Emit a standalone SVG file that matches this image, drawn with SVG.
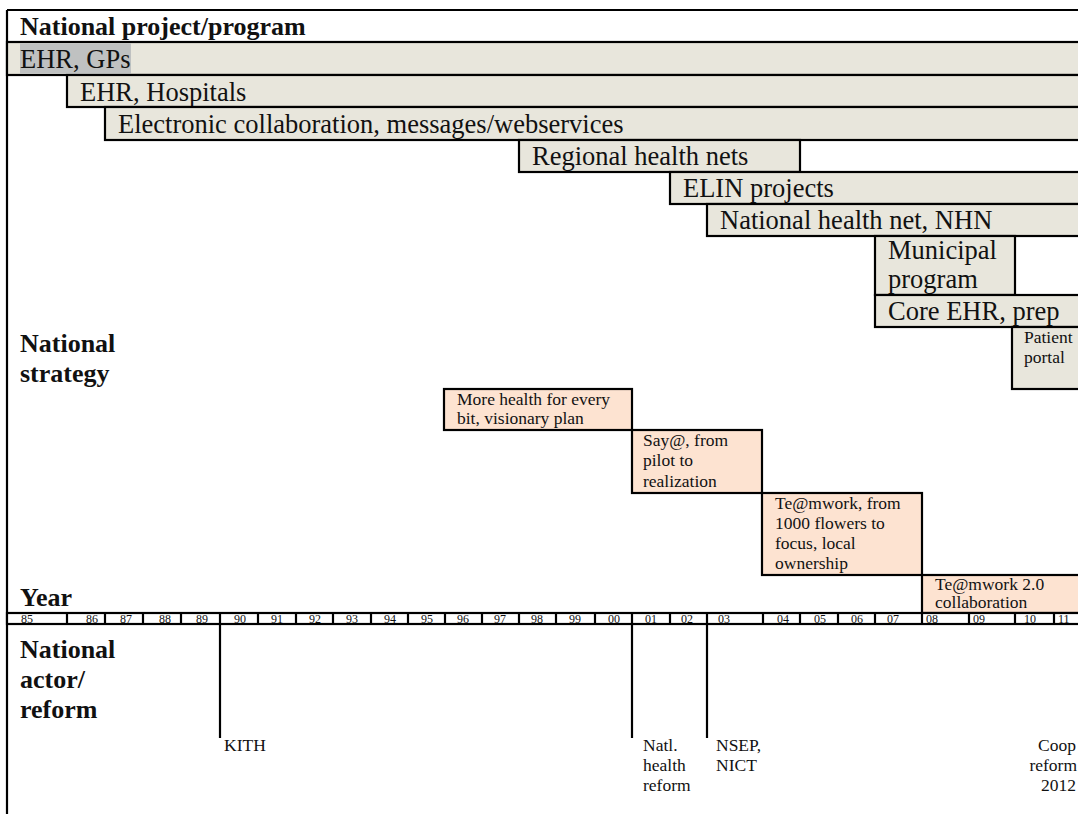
<svg xmlns="http://www.w3.org/2000/svg" width="1078" height="814" viewBox="0 0 1078 814">
  <style>
    .proj { fill: #e8e6dc; stroke: #000; stroke-width: 2.2; }
    .strat { fill: #fde3d1; stroke: #000; stroke-width: 2.2; }
    .cell { fill: #fff; stroke: #000; stroke-width: 2.2; }
    .rule { stroke: #000; stroke-width: 2.2; fill: none; }
    .head, .big, .small, .yr { font-family: 'Liberation Serif', 'Times New Roman', serif; fill: #111; }
    .head { font-size: 26px; font-weight: bold; }
    .big { font-size: 26.5px; }
    .small { font-size: 17.5px; }
    .yr { font-size: 12px; }
  </style>

  <rect x="0" y="0" width="1078" height="814" fill="#fff"/>

  <!-- outer frame -->
  <g id="frame">
    <line class="rule" x1="7" y1="10" x2="1078" y2="10"/>
    <line class="rule" x1="7" y1="10" x2="7" y2="814"/>
  </g>

  <!-- section headings -->
  <g id="headings">
    <text class="head" x="20" y="35">National project/program</text>
    <text class="head" x="20" y="352">National</text>
    <text class="head" x="20" y="382">strategy</text>
    <text class="head" x="20" y="606">Year</text>
    <text class="head" x="20" y="658">National</text>
    <text class="head" x="20" y="688">actor/</text>
    <text class="head" x="20" y="718">reform</text>
  </g>

  <!-- national projects / programs -->
  <g id="ehr-gps">
    <rect class="proj" x="7" y="42" width="1090" height="33"/>
    <rect x="20" y="43.2" width="111" height="30.6" fill="#bfc1c1"/>
    <text class="big" x="20" y="68">EHR, GPs</text>
  </g>
  <g id="ehr-hospitals">
    <rect class="proj" x="67" y="75" width="1030" height="32"/>
    <text class="big" x="80" y="101">EHR, Hospitals</text>
  </g>
  <g id="electronic-collaboration">
    <rect class="proj" x="105" y="107" width="990" height="33"/>
    <text class="big" x="118" y="133">Electronic collaboration, messages/webservices</text>
  </g>
  <g id="regional-health-nets">
    <rect class="proj" x="519" y="140" width="281" height="32"/>
    <text class="big" x="532" y="165">Regional health nets</text>
  </g>
  <g id="elin-projects">
    <rect class="proj" x="670" y="172" width="420" height="32"/>
    <text class="big" x="683" y="197">ELIN projects</text>
  </g>
  <g id="national-health-net">
    <rect class="proj" x="707" y="204" width="390" height="32"/>
    <text class="big" x="720" y="229">National health net, NHN</text>
  </g>
  <g id="municipal-program">
    <rect class="proj" x="875" y="236" width="140" height="59"/>
    <text class="big" x="888" y="259">Municipal</text>
    <text class="big" x="888" y="288">program</text>
  </g>
  <g id="core-ehr">
    <rect class="proj" x="875" y="295" width="220" height="32"/>
    <text class="big" x="888" y="320">Core EHR, prep</text>
  </g>
  <g id="patient-portal">
    <rect class="proj" x="1012" y="327" width="90" height="62"/>
    <text class="small" x="1024" y="343">Patient</text>
    <text class="small" x="1024" y="363">portal</text>
  </g>

  <!-- national strategies -->
  <g id="more-health">
    <rect class="strat" x="444" y="389" width="188" height="41"/>
    <text class="small" x="457" y="405">More health for every</text>
    <text class="small" x="457" y="424">bit, visionary plan</text>
  </g>
  <g id="say">
    <rect class="strat" x="632" y="430" width="130" height="63"/>
    <text class="small" x="643" y="446">Say@, from</text>
    <text class="small" x="643" y="466">pilot to</text>
    <text class="small" x="643" y="487">realization</text>
  </g>
  <g id="teamwork">
    <rect class="strat" x="762" y="493" width="160" height="82"/>
    <text class="small" x="775" y="509">Te@mwork, from</text>
    <text class="small" x="775" y="529">1000 flowers to</text>
    <text class="small" x="775" y="549">focus, local</text>
    <text class="small" x="775" y="569">ownership</text>
  </g>
  <g id="teamwork-2">
    <rect class="strat" x="922" y="575" width="170" height="38"/>
    <text class="small" x="935" y="590">Te@mwork 2.0</text>
    <text class="small" x="935" y="608">collaboration</text>
  </g>

  <!-- year scale -->
  <g id="year-scale">
    <rect class="cell" x="7" y="613" width="1090" height="11"/>
    <path class="rule" d="M67 613V624M105 613V624M143 613V624M181 613V624M220 613V624M258 613V624M296 613V624M333 613V624M371 613V624M408 613V624M445 613V624M482 613V624M519 613V624M556 613V624M595 613V624M632 613V624M670 613V624M707 613V624M763 613V624M800 613V624M838 613V624M875 613V624M922 613V624M969 613V624M1015 613V624M1054 613V624"/>
    <text class="yr" x="21" y="623">85</text>
    <text class="yr" x="86" y="623">86</text>
    <text class="yr" x="120" y="623">87</text>
    <text class="yr" x="159" y="623">88</text>
    <text class="yr" x="196" y="623">89</text>
    <text class="yr" x="234" y="623">90</text>
    <text class="yr" x="271" y="623">91</text>
    <text class="yr" x="309" y="623">92</text>
    <text class="yr" x="346" y="623">93</text>
    <text class="yr" x="384" y="623">94</text>
    <text class="yr" x="421" y="623">95</text>
    <text class="yr" x="457" y="623">96</text>
    <text class="yr" x="494" y="623">97</text>
    <text class="yr" x="531" y="623">98</text>
    <text class="yr" x="569" y="623">99</text>
    <text class="yr" x="608" y="623">00</text>
    <text class="yr" x="645" y="623">01</text>
    <text class="yr" x="681" y="623">02</text>
    <text class="yr" x="718" y="623">03</text>
    <text class="yr" x="777" y="623">04</text>
    <text class="yr" x="814" y="623">05</text>
    <text class="yr" x="851" y="623">06</text>
    <text class="yr" x="887" y="623">07</text>
    <text class="yr" x="926" y="623">08</text>
    <text class="yr" x="973" y="623">09</text>
    <text class="yr" x="1024" y="623">10</text>
    <text class="yr" x="1058" y="623">11</text>
  </g>

  <!-- markers from the year scale down to actors/reforms -->
  <g id="connectors">
    <line class="rule" x1="220" y1="624" x2="220" y2="738"/>
    <line class="rule" x1="632" y1="624" x2="632" y2="738"/>
    <line class="rule" x1="707" y1="624" x2="707" y2="738"/>
  </g>

  <!-- national actors / reforms -->
  <g id="kith">
    <text class="small" x="224" y="751">KITH</text>
  </g>
  <g id="health-reform">
    <text class="small" x="643" y="751">Natl.</text>
    <text class="small" x="643" y="771">health</text>
    <text class="small" x="643" y="791">reform</text>
  </g>
  <g id="nsep-nict">
    <text class="small" x="716" y="751">NSEP,</text>
    <text class="small" x="716" y="771">NICT</text>
  </g>
  <g id="coop-reform">
    <text class="small" x="1076" y="751" text-anchor="end">Coop</text>
    <text class="small" x="1077" y="771" text-anchor="end">reform</text>
    <text class="small" x="1076" y="791" text-anchor="end">2012</text>
  </g>
</svg>
